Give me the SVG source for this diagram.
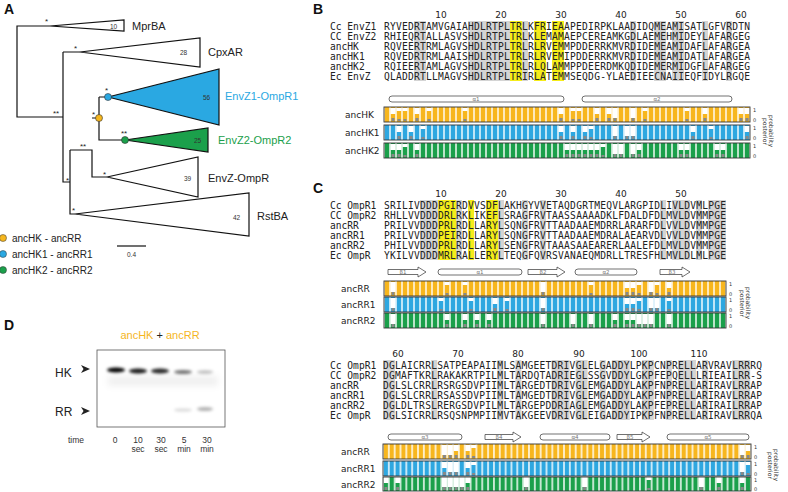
<svg xmlns="http://www.w3.org/2000/svg" width="788" height="492" viewBox="0 0 788 492">
<style>
.pl{font-family:"Liberation Sans",Arial,sans-serif;font-weight:bold;font-size:14px;fill:#111}
.tl{font-family:"Liberation Sans",Arial,sans-serif;font-size:11px;fill:#222}
.num{font-family:"Liberation Sans",Arial,sans-serif;font-size:6.5px;fill:#333}
.st{font-family:"Liberation Sans",Arial,sans-serif;font-size:8px;fill:#222}
.br{fill:none;stroke:#111;stroke-width:1.2}
.tri{stroke:#111;stroke-width:1.2}
.seq{font-family:"DejaVu Sans Mono",monospace;font-size:9.6px;fill:#222}
.nm{font-family:"DejaVu Sans Mono",monospace;font-size:9.6px;fill:#222}
.tk{font-family:"DejaVu Sans",sans-serif;font-size:9px;fill:#222}
.gy{fill:#d4d4d4}
.yl{fill:#f5ec1a}
.ss{fill:#fff;stroke:#333;stroke-width:0.7}
.ssl{font-family:"DejaVu Sans",sans-serif;font-size:5.5px;fill:#777;text-anchor:middle}
.box{fill:none;stroke:#333;stroke-width:0.9}
.ax{font-family:"DejaVu Sans",sans-serif;font-size:5px;fill:#333}
.pp{font-family:"DejaVu Sans",sans-serif;font-size:6px;fill:#333}
.gl{font-family:"Liberation Sans",Arial,sans-serif;font-size:8.5px;fill:#333;text-anchor:middle}
</style>
<defs>
<pattern id="oA" patternUnits="userSpaceOnUse" x="384" y="0" width="6" height="500"><rect x="0.7" width="4.6" height="500" fill="#f7b61e"/></pattern>
<pattern id="bA" patternUnits="userSpaceOnUse" x="384" y="0" width="6" height="500"><rect x="0.7" width="4.6" height="500" fill="#2ea7e0"/></pattern>
<pattern id="gA" patternUnits="userSpaceOnUse" x="384" y="0" width="6" height="500"><rect x="0.7" width="4.6" height="500" fill="#1ba04b"/></pattern>
<pattern id="oB" patternUnits="userSpaceOnUse" x="383" y="0" width="5.84" height="500"><rect x="0.7" width="4.4" height="500" fill="#f7b61e"/></pattern>
<pattern id="bB" patternUnits="userSpaceOnUse" x="383" y="0" width="5.84" height="500"><rect x="0.7" width="4.4" height="500" fill="#2ea7e0"/></pattern>
<pattern id="gB" patternUnits="userSpaceOnUse" x="383" y="0" width="5.84" height="500"><rect x="0.7" width="4.4" height="500" fill="#1ba04b"/></pattern>
<g id="m5"><rect width="5" height="6" fill="#fff"/><rect x="1" y="10" width="3" height="3" fill="#888"/></g>
<g id="m2"><rect width="5" height="10" fill="#fff"/><rect x="1" y="10" width="3" height="3" fill="#888"/></g>
<g id="m8"><rect width="5" height="3" fill="#fff"/><rect x="1" y="11" width="3" height="2" fill="#888"/></g>
<filter id="bl" x="-50%" y="-100%" width="200%" height="300%"><feGaussianBlur stdDeviation="1.6"/></filter>
<filter id="bl2" x="-50%" y="-100%" width="200%" height="300%"><feGaussianBlur stdDeviation="3"/></filter>
</defs>

<!-- Panel A -->
<g id="panelA">
<text class="pl" x="4" y="14">A</text>
<g id="connectors">
<path class="br" d="M50 26 H17 V117 H63 M63 52 V182 H70 M80 52 H63 M70 150 V214 H75 M70 150 H92 V177 H107 M92 118 H99 M99 97 V140 H125 M99 97 H108"/>
</g>
<g id="mprba"><polygon class="tri" fill="#fff" points="50,26 124,20 124,31"/><text class="num" x="110" y="28.5">10</text><text class="tl" x="132" y="30">MprBA</text><text class="st" x="45" y="24">*</text></g>
<g id="cpxar"><polygon class="tri" fill="#fff" points="80,52 200,38 200,67"/><text class="num" x="180" y="55">28</text><text class="tl" x="208" y="56">CpxAR</text><text class="st" x="74" y="51">*</text></g>
<g id="envz1"><polygon class="tri" fill="#2aa8e2" points="108,97 219,69 219,125"/><text class="num" x="203" y="100">56</text><text class="tl" x="225" y="100" fill="#2aa8e2" style="fill:#2aa8e2">EnvZ1-OmpR1</text><text class="st" x="105" y="93">*</text></g>
<g id="envz2"><polygon class="tri" fill="#1ba04b" points="125,140 208,128 208,152"/><text class="num" x="194" y="143">25</text><text class="tl" x="218" y="144" style="fill:#1ba04b">EnvZ2-OmpR2</text><text class="st" x="121" y="136">**</text></g>
<g id="envz"><polygon class="tri" fill="#fff" points="107,177 198,157 198,197"/><text class="num" x="184" y="181">39</text><text class="tl" x="208" y="182">EnvZ-OmpR</text><text class="st" x="103" y="177">*</text></g>
<g id="rstba"><polygon class="tri" fill="#fff" points="75,214 249,193 249,236"/><text class="num" x="233" y="220">42</text><text class="tl" x="257" y="220">RstBA</text><text class="st" x="72" y="213">*</text></g>
<g id="stars"><text class="st" x="53" y="116">**</text><text class="st" x="66" y="183">*</text><text class="st" x="80" y="149">**</text><text class="st" x="92" y="117">*</text></g>
<circle cx="99" cy="118" r="3.5" fill="#f5b61e" stroke="#333" stroke-width="0.6"/>
<circle cx="108" cy="97" r="3.5" fill="#2aa8e2" stroke="#333" stroke-width="0.6"/>
<circle cx="125" cy="140" r="3.5" fill="#1ba04b" stroke="#333" stroke-width="0.6"/>
<g id="legend">
<circle cx="3" cy="238" r="3.5" fill="#f5b61e" stroke="#333" stroke-width="0.5"/><text class="tl" x="12" y="242" style="font-size:10px">ancHK - ancRR</text>
<circle cx="3" cy="254" r="3.5" fill="#2aa8e2" stroke="#333" stroke-width="0.5"/><text class="tl" x="12" y="258" style="font-size:10px">ancHK1 - ancRR1</text>
<circle cx="3" cy="270" r="3.5" fill="#1ba04b" stroke="#333" stroke-width="0.5"/><text class="tl" x="12" y="274" style="font-size:10px">ancHK2 - ancRR2</text>
<line x1="117" y1="246" x2="146" y2="246" stroke="#111" stroke-width="1.2"/><text class="num" x="127" y="257">0.4</text>
</g>
</g>

<!-- Panel D -->
<g id="panelD">
<text class="pl" x="4" y="330">D</text>
<text x="160" y="339" text-anchor="middle" style="font-family:'Liberation Sans',Arial,sans-serif;font-size:11px"><tspan fill="#f5b61e">ancHK</tspan><tspan fill="#222"> + </tspan><tspan fill="#f5b61e">ancRR</tspan></text>
<rect x="97" y="350" width="128" height="77" fill="#fff" stroke="#555" stroke-width="0.8"/>
<g filter="url(#bl2)" fill="#000"><rect x="108" y="376" width="110" height="10" opacity="0.06"/></g>
<g filter="url(#bl)" fill="#000">
<ellipse cx="116" cy="370" rx="9" ry="2.6" opacity="1"/>
<ellipse cx="138" cy="371" rx="9" ry="2.4" opacity="0.9"/>
<ellipse cx="160" cy="371" rx="9" ry="2.4" opacity="0.85"/>
<ellipse cx="183" cy="372" rx="9" ry="2" opacity="0.55"/>
<ellipse cx="205" cy="372" rx="8" ry="1.8" opacity="0.25"/>
<ellipse cx="183" cy="410" rx="9" ry="1.6" opacity="0.15"/>
<ellipse cx="205" cy="409" rx="8" ry="2" opacity="0.3"/>
</g>
<text class="tl" x="55" y="377" style="font-size:12px">HK</text><path d="M81 365 L90 369 L81 373 L83.5 369 Z" fill="#222"/>
<text class="tl" x="55" y="416" style="font-size:12px">RR</text><path d="M81 407 L90 411 L81 415 L83.5 411 Z" fill="#222"/>
<text class="gl" x="76" y="443">time</text>
<text class="gl" x="115" y="443">0</text>
<text class="gl" x="138" y="443">10</text><text class="gl" x="138" y="452">sec</text>
<text class="gl" x="161" y="443">30</text><text class="gl" x="161" y="452">sec</text>
<text class="gl" x="184" y="443">5</text><text class="gl" x="184" y="452">min</text>
<text class="gl" x="207" y="443">30</text><text class="gl" x="207" y="452">min</text>
</g>

<!-- Panel B -->
<g id="panelB">
<text class="pl" x="313" y="14">B</text>
<g class="gy"><rect x="414" y="21" width="12" height="60"/><rect x="468" y="21" width="42" height="60"/><rect x="522" y="21" width="6" height="60"/><rect x="630" y="21" width="6" height="60"/><rect x="654" y="21" width="12" height="60"/><rect x="672" y="21" width="12" height="60"/><rect x="702" y="21" width="6" height="60"/><rect x="726" y="21" width="6" height="60"/></g>
<g class="yl"><rect x="510" y="21" width="12" height="60"/><rect x="534" y="21" width="12" height="60"/><rect x="552" y="21" width="12" height="60"/></g>
<g class="tk" text-anchor="middle"><text x="441" y="18">10</text><text x="501" y="18">20</text><text x="561" y="18">30</text><text x="621" y="18">40</text><text x="681" y="18">50</text><text x="741" y="18">60</text></g>
<g class="nm"><text x="330" y="29.5">Cc EnvZ1</text><text x="330" y="39.5">CC EnvZ2</text><text x="330" y="49.5">ancHK</text><text x="330" y="59.5">ancHK1</text><text x="330" y="69.5">ancHK2</text><text x="330" y="79.5">Ec EnvZ</text></g>
<g class="seq" lengthAdjust="spacing">
<text x="384" y="29.5" textLength="366" lengthAdjust="spacing">RYVEDRTAMVGAIAHDLRTPLTRLKFRIEAAPEDIRPKLAADIDQMEAMISATLGFVRDTN</text>
<text x="384" y="39.5" textLength="366" lengthAdjust="spacing">RHIEQRTALLASVSHDLRTPLTRLKLEMAMAEPCEREAMKGDLAEMEHMIDEYLAFARGEG</text>
<text x="384" y="49.5" textLength="366" lengthAdjust="spacing">RQVEERTRMLAGVSHDLRTPLTRLRLRVEMMPDDERRKMVRDIDEMEAMIDAFLAFARGEA</text>
<text x="384" y="59.5" textLength="366" lengthAdjust="spacing">RQVEDRTRMLAAISHDLRTPLTRLRLRVEMIPDDERRKMVRDIDEMEAMIDATLAFARGEA</text>
<text x="384" y="69.5" textLength="366" lengthAdjust="spacing">RQIEERTAMLAGVSHDLRTPLTRLRLQLAMMPPDEERDMKQDIDEMERMIDGFLAFARGEG</text>
<text x="384" y="79.5" textLength="366" lengthAdjust="spacing">QLADDRTLLMAGVSHDLRTPLTRIRLATEMMSEQDG-YLAEDIEECNAIIEQFIDYLRGQE</text>
</g>
<rect class="ss" x="389" y="96" width="175" height="6" rx="3"/><text class="ssl" x="476" y="101">α1</text>
<rect class="ss" x="582" y="96" width="150" height="6" rx="3"/><text class="ssl" x="657" y="101">α2</text>
<g class="tk"><text x="345" y="118">ancHK</text><text x="345" y="136">ancHK1</text><text x="345" y="154">ancHK2</text></g>
<rect x="384" y="107" width="366" height="15" fill="url(#oA)"/>
<rect x="384" y="125" width="366" height="15" fill="url(#bA)"/>
<rect x="384" y="143" width="366" height="15" fill="url(#gA)"/>
<g transform="translate(0,108)"><use href="#m5" x="390.5"/><use href="#m8" x="396.5"/><use href="#m8" x="402.5"/><use href="#m5" x="414.5"/><use href="#m8" x="426.5"/><use href="#m8" x="462.5"/><use href="#m5" x="558.5"/><use href="#m8" x="570.5"/><use href="#m8" x="576.5"/><use href="#m5" x="594.5"/><use href="#m5" x="606.5"/><use href="#m2" x="612.5"/><use href="#m2" x="630.5"/><use href="#m8" x="642.5"/><use href="#m8" x="684.5"/><use href="#m5" x="702.5"/><use href="#m5" x="738.5"/><use href="#m5" x="744.5"/></g>
<g transform="translate(0,126)"><use href="#m5" x="396.5"/><use href="#m5" x="408.5"/><use href="#m8" x="420.5"/><use href="#m5" x="558.5"/><use href="#m5" x="570.5"/><use href="#m5" x="582.5"/><use href="#m8" x="588.5"/><use href="#m2" x="612.5"/><use href="#m2" x="624.5"/><use href="#m2" x="630.5"/><use href="#m5" x="690.5"/><use href="#m8" x="708.5"/><use href="#m5" x="744.5"/></g>
<g transform="translate(0,144)"><use href="#m5" x="390.5"/><use href="#m5" x="396.5"/><use href="#m8" x="402.5"/><use href="#m5" x="414.5"/><use href="#m5" x="564.5"/><use href="#m5" x="570.5"/><use href="#m5" x="576.5"/><use href="#m5" x="582.5"/><use href="#m5" x="588.5"/><use href="#m5" x="594.5"/><use href="#m8" x="600.5"/><use href="#m2" x="612.5"/><use href="#m2" x="618.5"/><use href="#m2" x="630.5"/><use href="#m5" x="636.5"/><use href="#m5" x="678.5"/><use href="#m5" x="684.5"/><use href="#m5" x="714.5"/><use href="#m5" x="720.5"/></g>
<rect class="box" x="384" y="107" width="366" height="15"/><rect class="box" x="384" y="125" width="366" height="15"/><rect class="box" x="384" y="143" width="366" height="15"/>
<g class="ax"><text x="753" y="112">1</text><text x="753" y="122">0</text><text x="753" y="130">1</text><text x="753" y="140">0</text><text x="753" y="148">1</text><text x="753" y="158">0</text></g>
<text class="pp" transform="translate(763,118) rotate(90)"><tspan x="0" y="0">posterior</tspan><tspan x="-3" y="-6">probability</tspan></text>
</g>

<!-- Panel C -->
<g id="panelC">
<text class="pl" x="313" y="193">C</text>
<g class="gy"><rect x="420" y="200" width="18" height="60"/><rect x="456" y="200" width="6" height="60"/><rect x="498" y="200" width="6" height="60"/><rect x="522" y="200" width="6" height="60"/><rect x="540" y="200" width="6" height="60"/><rect x="660" y="200" width="6" height="60"/><rect x="672" y="200" width="18" height="60"/><rect x="696" y="200" width="6" height="60"/><rect x="708" y="200" width="18" height="60"/></g>
<g class="yl"><rect x="438" y="200" width="18" height="60"/><rect x="468" y="200" width="6" height="60"/><rect x="486" y="200" width="12" height="60"/></g>
<g class="tk" text-anchor="middle"><text x="441" y="197">10</text><text x="501" y="197">20</text><text x="561" y="197">30</text><text x="621" y="197">40</text><text x="681" y="197">50</text></g>
<g class="nm"><text x="330" y="208.5">Cc OmpR1</text><text x="330" y="218.5">CC OmpR2</text><text x="330" y="228.5">ancRR</text><text x="330" y="238.5">ancRR1</text><text x="330" y="248.5">ancRR2</text><text x="330" y="258.5">Ec OmpR</text></g>
<g class="seq">
<text x="384" y="208.5" textLength="342" lengthAdjust="spacing">SRILIVDDDPGIRDVVSDFLAKHGYVVETAQDGRTMEQVLARGPIDLIVLDVMLPGE</text>
<text x="384" y="218.5" textLength="342" lengthAdjust="spacing">RHLLVVDDDDRLRKLIKEFLSRAGFRVTAASSAAAADKLFDALDFDLMVLDVMMPGE</text>
<text x="384" y="228.5" textLength="342" lengthAdjust="spacing">PRILVVDDDPRLRDLLARYLSQNGFRVTTAADAAEMDRRLARARFDLVVLDVMMPGE</text>
<text x="384" y="238.5" textLength="342" lengthAdjust="spacing">PRILVVDDDPEIRDLLARYLSQNGFRVTTAADAAEMDRALAEARVDLVVLDVMMPGE</text>
<text x="384" y="248.5" textLength="342" lengthAdjust="spacing">PHILVVDDDPRLRDLLARYLSENGFRVTAAASAAEARERLAALEFDLMVLDVMMPGE</text>
<text x="384" y="258.5" textLength="342" lengthAdjust="spacing">YKILVVDDDMRLRALLERYLTEQGFQVRSVANAEQMDRLLTRESFHLMVLDLMLPGE</text>
</g>
<path class="ss" d="M388 269.5 H418 V267 L426 272 L418 277 V274.5 H388 Z"/><text class="ssl" x="403" y="274">β1</text>
<rect class="ss" x="438" y="269" width="84" height="6" rx="3"/><text class="ssl" x="480" y="274">α1</text>
<path class="ss" d="M528 269.5 H557 V267 L565 272 L557 277 V274.5 H528 Z"/><text class="ssl" x="543" y="274">β2</text>
<rect class="ss" x="575" y="269" width="62" height="6" rx="3"/><text class="ssl" x="606" y="274">α2</text>
<path class="ss" d="M660 269.5 H682 V267 L690 272 L682 277 V274.5 H660 Z"/><text class="ssl" x="672" y="274">β3</text>
<g class="tk"><text x="341" y="292">ancRR</text><text x="341" y="308">ancRR1</text><text x="341" y="324">ancRR2</text></g>
<rect x="384" y="281" width="342" height="15" fill="url(#oA)"/>
<rect x="384" y="297" width="342" height="15" fill="url(#bA)"/>
<rect x="384" y="313" width="342" height="15" fill="url(#gA)"/>
<g transform="translate(0,282)"><use href="#m2" x="390.5"/><use href="#m8" x="444.5"/><use href="#m8" x="462.5"/><use href="#m2" x="540.5"/><use href="#m8" x="588.5"/><use href="#m5" x="624.5"/><use href="#m5" x="630.5"/><use href="#m8" x="636.5"/><use href="#m2" x="648.5"/><use href="#m8" x="654.5"/><use href="#m5" x="666.5"/></g>
<g transform="translate(0,298)"><use href="#m2" x="390.5"/><use href="#m8" x="438.5"/><use href="#m8" x="468.5"/><use href="#m5" x="492.5"/><use href="#m8" x="504.5"/><use href="#m2" x="540.5"/><use href="#m5" x="624.5"/><use href="#m5" x="630.5"/><use href="#m8" x="636.5"/><use href="#m2" x="648.5"/><use href="#m2" x="654.5"/><use href="#m8" x="666.5"/></g>
<g transform="translate(0,314)"><use href="#m2" x="390.5"/><use href="#m5" x="444.5"/><use href="#m5" x="462.5"/><use href="#m5" x="474.5"/><use href="#m5" x="486.5"/><use href="#m2" x="540.5"/><use href="#m2" x="570.5"/><use href="#m2" x="588.5"/><use href="#m5" x="612.5"/><use href="#m5" x="624.5"/><use href="#m5" x="630.5"/><use href="#m2" x="636.5"/><use href="#m2" x="642.5"/><use href="#m2" x="648.5"/><use href="#m2" x="666.5"/></g>
<rect class="box" x="384" y="281" width="342" height="15"/><rect class="box" x="384" y="297" width="342" height="15"/><rect class="box" x="384" y="313" width="342" height="15"/>
<g class="ax"><text x="729" y="286">1</text><text x="729" y="296">0</text><text x="729" y="302">1</text><text x="729" y="312">0</text><text x="729" y="318">1</text><text x="729" y="328">0</text></g>
<text class="pp" transform="translate(740,290) rotate(90)"><tspan x="0" y="0">posterior</tspan><tspan x="-3" y="-6">probability</tspan></text>

<g class="gy"><rect x="383" y="360" width="12" height="60"/><rect x="431.2" y="360" width="6" height="60"/><rect x="497.4" y="360" width="6" height="60"/><rect x="515.4" y="360" width="6" height="60"/><rect x="551.6" y="360" width="18" height="60"/><rect x="575.6" y="360" width="12" height="60"/><rect x="599.7" y="360" width="6" height="60"/><rect x="611.8" y="360" width="18" height="60"/><rect x="641.9" y="360" width="12" height="60"/><rect x="665.9" y="360" width="6" height="60"/><rect x="678" y="360" width="18" height="60"/><rect x="702.1" y="360" width="6" height="60"/><rect x="732.2" y="360" width="18" height="60"/></g>
<g class="tk" text-anchor="middle"><text x="398" y="357">60</text><text x="458" y="357">70</text><text x="518" y="357">80</text><text x="579" y="357">90</text><text x="639" y="357">100</text><text x="699" y="357">110</text></g>
<g class="nm"><text x="330" y="368.5">Cc OmpR1</text><text x="330" y="378.5">CC OmpR2</text><text x="330" y="388.5">ancRR</text><text x="330" y="398.5">ancRR1</text><text x="330" y="408.5">ancRR2</text><text x="330" y="418.5">Ec OmpR</text></g>
<g class="seq">
<text x="383" y="368.5" textLength="379" lengthAdjust="spacing">DGLAICRRLSATPEAPAIIMLSAMGEETDRIVGLELGADDYLPKPCNPRELLARVRAVLRRRQ</text>
<text x="383" y="378.5" textLength="379" lengthAdjust="spacing">DGMAFTKRLRAKAKRTPILMLTARDQTADRIEGLSSGVDDYLGKPFEPQELLLRIEAILRR-S</text>
<text x="383" y="388.5" textLength="379" lengthAdjust="spacing">DGLSLCRRLRSRGSDVPIIMLTARGEDTDRIVGLEMGADDYLAKPFNPRELLARIRAVLRRAP</text>
<text x="383" y="398.5" textLength="379" lengthAdjust="spacing">DGLSLCRRLRSASSDVPIIMLTAMGEDTDRIVGLEMGADDYLAKPFNPRELLARIRAVLRRAP</text>
<text x="383" y="408.5" textLength="379" lengthAdjust="spacing">DGLDLTRSLRERGSDVPILMLTARGEPDDRIAGLEMGADDYLAKPFEPRELLARIRAILRRAP</text>
<text x="383" y="418.5" textLength="379" lengthAdjust="spacing">DGLSICRRLRSQSNPMPIIMVTAKGEEVDRIVGLEIGADDYIPKPFNPRELLARIRAVLRRQA</text>
</g>
<rect class="ss" x="388" y="434" width="74" height="6" rx="3"/><text class="ssl" x="425" y="439">α3</text>
<path class="ss" d="M485 434.5 H513 V432 L521 437 L513 442 V439.5 H485 Z"/><text class="ssl" x="499" y="439">β4</text>
<rect class="ss" x="540" y="434" width="70" height="6" rx="3"/><text class="ssl" x="575" y="439">α4</text>
<path class="ss" d="M617 434.5 H642 V432 L650 437 L642 442 V439.5 H617 Z"/><text class="ssl" x="630" y="439">β5</text>
<rect class="ss" x="667" y="434" width="82" height="6" rx="3"/><text class="ssl" x="708" y="439">α5</text>
<g class="tk"><text x="341" y="455">ancRR</text><text x="341" y="472">ancRR1</text><text x="341" y="488">ancRR2</text></g>
<rect x="383" y="444" width="368" height="15" fill="url(#oB)"/>
<rect x="383" y="461" width="368" height="15" fill="url(#bB)"/>
<rect x="383" y="477" width="368" height="14" fill="url(#gB)"/>
<g transform="translate(0,445)"><use href="#m2" x="441.9"/><use href="#m2" x="447.7"/><use href="#m5" x="453.6"/><use href="#m5" x="465.3"/><use href="#m8" x="471.1"/><use href="#m2" x="739.7"/><use href="#m5" x="745.6"/></g>
<g transform="translate(0,462)"><use href="#m5" x="441.9"/><use href="#m2" x="447.7"/><use href="#m2" x="453.6"/><use href="#m5" x="465.3"/><use href="#m8" x="471.1"/><use href="#m2" x="739.7"/><use href="#m8" x="745.6"/></g>
<g transform="translate(0,477)"><use href="#m5" x="383.5"/><use href="#m5" x="395.2"/><use href="#m2" x="441.9"/><use href="#m2" x="447.7"/><use href="#m2" x="453.6"/><use href="#m2" x="459.4"/><use href="#m5" x="465.3"/><use href="#m2" x="523.7"/><use href="#m2" x="582.1"/><use href="#m8" x="646.3"/><use href="#m2" x="698.9"/><use href="#m5" x="716.4"/><use href="#m5" x="739.7"/></g>
<rect class="box" x="383" y="444" width="368" height="15"/><rect class="box" x="383" y="461" width="368" height="15"/><rect class="box" x="383" y="477" width="368" height="14"/>
<g class="ax"><text x="754" y="449">1</text><text x="754" y="459">0</text><text x="754" y="466">1</text><text x="754" y="476">0</text><text x="754" y="482">1</text><text x="754" y="491">0</text></g>
<text class="pp" transform="translate(768,452) rotate(90)"><tspan x="0" y="0">posterior</tspan><tspan x="-3" y="-6">probability</tspan></text>
</g>
</svg>
